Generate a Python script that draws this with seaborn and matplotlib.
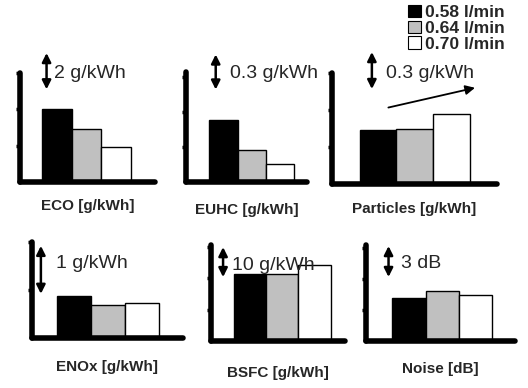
import pandas as pd
import matplotlib.pyplot as plt
import seaborn as sns
from matplotlib.patches import Patch

# -------------------------------
# Data (relative values)
# -------------------------------
flows = ["0.58 l/min", "0.64 l/min", "0.70 l/min"]
colors = ["black", "#c0c0c0", "white"]

panels = ["ECO [g/kWh]", "EUHC [g/kWh]", "Particles [g/kWh]",
          "ENOx [g/kWh]", "BSFC [g/kWh]", "Noise [dB]"]
eco = [4.0, 2.9, 1.95]
euhc = [0.53, 0.27, 0.15]
particles = [0.44, 0.45, 0.57]
enox = [0.88, 0.69, 0.73]
bsfc = [22.3, 22.3, 25.3]
noise = [4.15, 4.85, 4.45]
scale_labels = ["2 g/kWh", "0.3 g/kWh", "0.3 g/kWh", "1 g/kWh", "10 g/kWh", "3 dB"]
scale_steps = [2, 0.3, 0.3, 1, 10, 3]

values = [eco, euhc, particles, enox, bsfc, noise]

# -------------------------------
# Layout (pixels, y from top): axis box, xlim, ylim, scale arrow/text spots
# -------------------------------
W, H = 528, 388
layout = [
    dict(box=(20, 73, 155, 182), xlim=(-0.6, 0.62), ylim=(0, 6), arrow_x=-0.36, arrow_y0=5.1, text=(-0.29, 6.0), pad=12),
    dict(box=(186, 72, 307, 182), xlim=(-0.62, 0.52), ylim=(0, 0.94), arrow_x=-0.34, arrow_y0=0.79, text=(-0.21, 0.93), pad=15),
    dict(box=(332, 73, 497, 184), xlim=(-0.6, 0.6), ylim=(0, 0.9), arrow_x=-0.31, arrow_y0=0.77, text=(-0.21, 0.90), pad=13),
    dict(box=(32, 242, 183, 338), xlim=(-0.6, 0.59), ylim=(0, 2), arrow_x=-0.53, arrow_y0=0.92, text=(-0.41, 1.56), pad=16),
    dict(box=(211, 245, 345, 341), xlim=(-0.59, 0.52), ylim=(0, 32), arrow_x=-0.49, arrow_y0=21.3, text=(-0.42, 25.3), pad=18),
    dict(box=(366, 245, 515, 341), xlim=(-0.61, 0.58), ylim=(0, 9.3), arrow_x=-0.43, arrow_y0=6.2, text=(-0.33, 7.5), pad=15),
]

sns.set_style("white")
plt.rcParams['font.family'] = ['Liberation Sans', 'DejaVu Sans']

fig = plt.figure(figsize=(W / 100, H / 100), dpi=100)

for i, panel in enumerate(panels):
    lay = layout[i]
    x1, yt, x2, yb = lay["box"]
    ax = fig.add_axes([x1 / W, 1 - yb / H, (x2 - x1) / W, (yb - yt) / H])
    df = pd.DataFrame({"panel": panel, "flow": flows, "value": values[i]})
    sns.barplot(data=df, x="panel", y="value", hue="flow", palette=colors,
                edgecolor="black", linewidth=1, width=0.8, gap=0,
                legend=False, ax=ax)
    ax.set_xlim(*lay["xlim"])
    ax.set_ylim(*lay["ylim"])
    step = scale_steps[i] if i != 4 else 10.5
    ax.set_yticks([k * step for k in range(1, 4) if k * step < lay["ylim"][1] * 1.01])
    ax.set_yticklabels([])
    ax.set_xticks([])
    ax.tick_params(axis="y", direction="out", length=3, width=2.5, color="black", left=True)
    ax.set_ylabel("")
    ax.set_xlabel(panel, fontsize=11, fontweight="bold", labelpad=lay["pad"])
    for side in ["top", "right"]:
        ax.spines[side].set_visible(False)
    for side in ["left", "bottom"]:
        ax.spines[side].set_linewidth(4)
        ax.spines[side].set_color("black")
        ax.spines[side].set_capstyle("round")
    ax.patch.set_alpha(0)

    # scale arrow + label
    y0 = lay["arrow_y0"]
    ax.annotate("", xy=(lay["arrow_x"], y0 + scale_steps[i]), xytext=(lay["arrow_x"], y0),
                arrowprops=dict(arrowstyle="<|-|>", color="black", lw=1.8, mutation_scale=13,
                                shrinkA=0, shrinkB=0),
                annotation_clip=False)
    ax.text(lay["text"][0], lay["text"][1], scale_labels[i], fontsize=14,
            va="center", ha="left", clip_on=False)

    if panel.startswith("Particles"):
        ax.annotate("", xy=(0.44, 0.78), xytext=(-0.19, 0.62),
                    arrowprops=dict(arrowstyle="-|>", color="black", lw=1.3, mutation_scale=14,
                                    shrinkA=0, shrinkB=0),
                    annotation_clip=False)

handles = [Patch(facecolor=c, edgecolor="black", linewidth=0.8) for c in colors]
fig.legend(handles, flows, loc="upper left", bbox_to_anchor=(408 / W, 1 - 5 / H),
           frameon=False, handlelength=0.72, handleheight=0.72, handletextpad=0.25,
           labelspacing=0.02, borderaxespad=0, borderpad=0,
           prop=dict(size=12.6, weight="bold"))

fig.savefig("out.png", dpi=100)
